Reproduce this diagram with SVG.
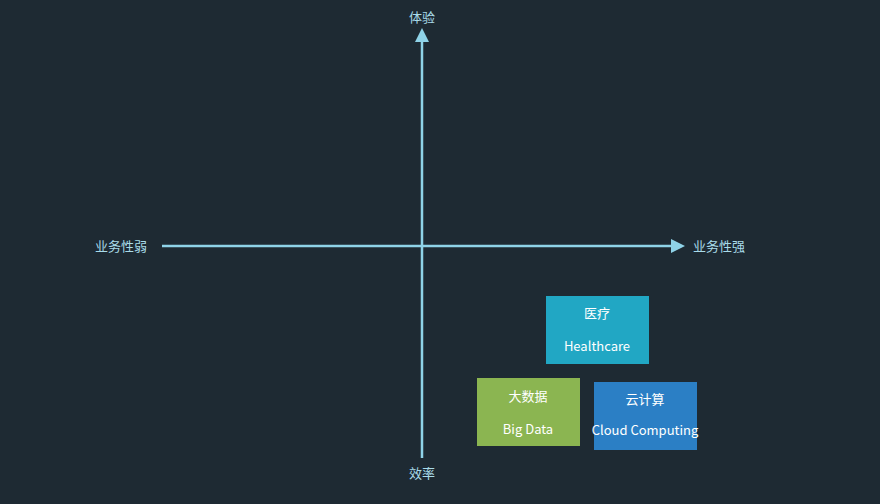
<svg xmlns="http://www.w3.org/2000/svg" width="880" height="504" viewBox="0 0 880 504">
<style>
.ax{stroke:#8fd3e8;stroke-width:2.5;fill:none}
.al{font-family:"Noto Sans CJK SC",sans-serif;font-size:13px;fill:#a9dbe9}
.bt{font-family:"Noto Sans CJK SC","Open Sans",sans-serif;font-size:13px;fill:#ffffff;text-anchor:middle}
</style>
<defs><marker id="ah" markerWidth="8" markerHeight="8" refX="4" refY="4" orient="auto" markerUnits="userSpaceOnUse" viewBox="0 0 8 8"><path d="M0,0 L8,4 L0,8 Z" fill="#8fd3e8"/></marker></defs>
<rect width="880" height="504" fill="#1e2a33"/>
<g id="connectors">
<line class="ax" x1="422" y1="458" x2="422" y2="40"/>
<path d="M415,42 L422,28 L429,42 Z" fill="#8fd3e8"/>
<line class="ax" x1="162" y1="246" x2="672" y2="246"/>
<path d="M671,239 L685,246 L671,253 Z" fill="#8fd3e8"/>
</g>
<g id="labels">
<text class="al" x="422" y="22" text-anchor="middle">体验</text>
<text class="al" x="422" y="478" text-anchor="middle">效率</text>
<text class="al" x="121" y="251" text-anchor="middle">业务性弱</text>
<text class="al" x="719" y="251" text-anchor="middle">业务性强</text>
</g>
<g id="healthcare"><rect x="546" y="296" width="103" height="68" fill="#21a7c4"/>
<text class="bt" x="597" y="318">医疗</text><text class="bt" x="597" y="351">Healthcare</text></g>
<g id="bigdata"><rect x="477" y="378" width="103" height="68" fill="#8bb551"/>
<text class="bt" x="528" y="401">大数据</text><text class="bt" x="528" y="434">Big Data</text></g>
<g id="cloud"><rect x="594" y="382" width="103" height="68" fill="#2b7fc5"/>
<text class="bt" x="645" y="404">云计算</text><text class="bt" x="645" y="435" font-size="12.5">Cloud Computing</text></g>
</svg>
